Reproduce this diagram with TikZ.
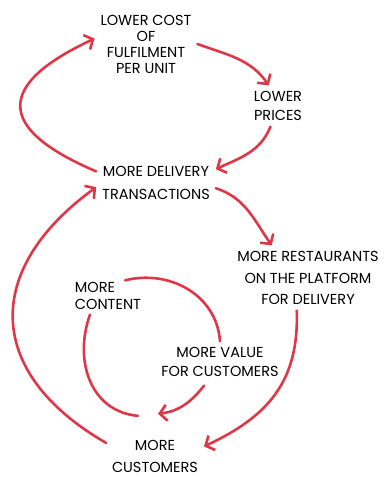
\documentclass[tikz,border=0pt]{standalone}
\usepackage{fontspec}
\setmainfont{Poppins}
\usepackage{tikz}
\usetikzlibrary{arrows.meta}
\definecolor{loopred}{RGB}{222,56,72}

\begin{document}
\begin{tikzpicture}[x=1pt, y=1pt,
		lbl/.style={align=center, inner sep=2pt, outer sep=4pt, font=\fontsize{14.5}{19}\selectfont},
		arr/.style={-{Straight Barb[length=7pt, width=16pt]}, line width=2.6pt, loopred, line cap=round},
		arc/.style={line width=2.6pt, loopred, line cap=round}]
			\useasboundingbox (0,0) rectangle (388,477);
			% the nodes of the two loops
			\node[lbl, font=\fontsize{14.5}{16}\selectfont] (cost) at (146,433) {LOWER COST\\OF\\FULFILMENT\\PER UNIT};
			\node[lbl] (prices) at (278,371) {LOWER\\PRICES};
			\node[lbl, font=\fontsize{14.5}{23}\selectfont] (delivery) at (156,294) {MORE DELIVERY\\TRANSACTIONS};
			\node[lbl, font=\fontsize{14.5}{21.5}\selectfont] (restaurants) at (308,199) {MORE RESTAURANTS\\ON THE PLATFORM\\FOR DELIVERY};
			\node[lbl, align=left, font=\fontsize{14.5}{17}\selectfont] (content) at (108,181) {MORE\\CONTENT};
			\node[lbl] (value) at (220,115) {MORE VALUE\\FOR CUSTOMERS};
			\node[lbl, font=\fontsize{14.5}{22}\selectfont] (customers) at (155,21) {MORE\\CUSTOMERS};
			% upper loop
			\draw[arr] (cost.east) to[out=-20, in=125] (prices.114);
			\draw[arr] (prices.-110) to[out=-112, in=25] (delivery.13);
			\draw[arr] (delivery.169) to[out=157, in=205, looseness=2.1] (cost.174);
			% outer loop
			\draw[arr] (delivery.-5) to[out=-18, in=125] (restaurants.138);
			\draw[arr] (restaurants.-109) to[out=-88, in=25, looseness=1.1] (customers.11);
			\draw[arr] (customers.165) to[out=150, in=216, looseness=1.4] (delivery.184);
			% inner loop
			\draw[arc] ([xshift=-22pt, yshift=-4pt]content.north east) to[out=14, in=94, looseness=1.05] (value.north);
			\draw[arr] ([xshift=-16pt, yshift=-3pt]value.south) to[out=-128, in=7] ([xshift=3pt, yshift=20pt]customers.north);
			\draw[arc] ([xshift=-18pt, yshift=1pt]content.south) to[out=-110, in=175, looseness=1.1] ([xshift=-17pt, yshift=18pt]customers.north);
		\end{tikzpicture}
\end{document}
